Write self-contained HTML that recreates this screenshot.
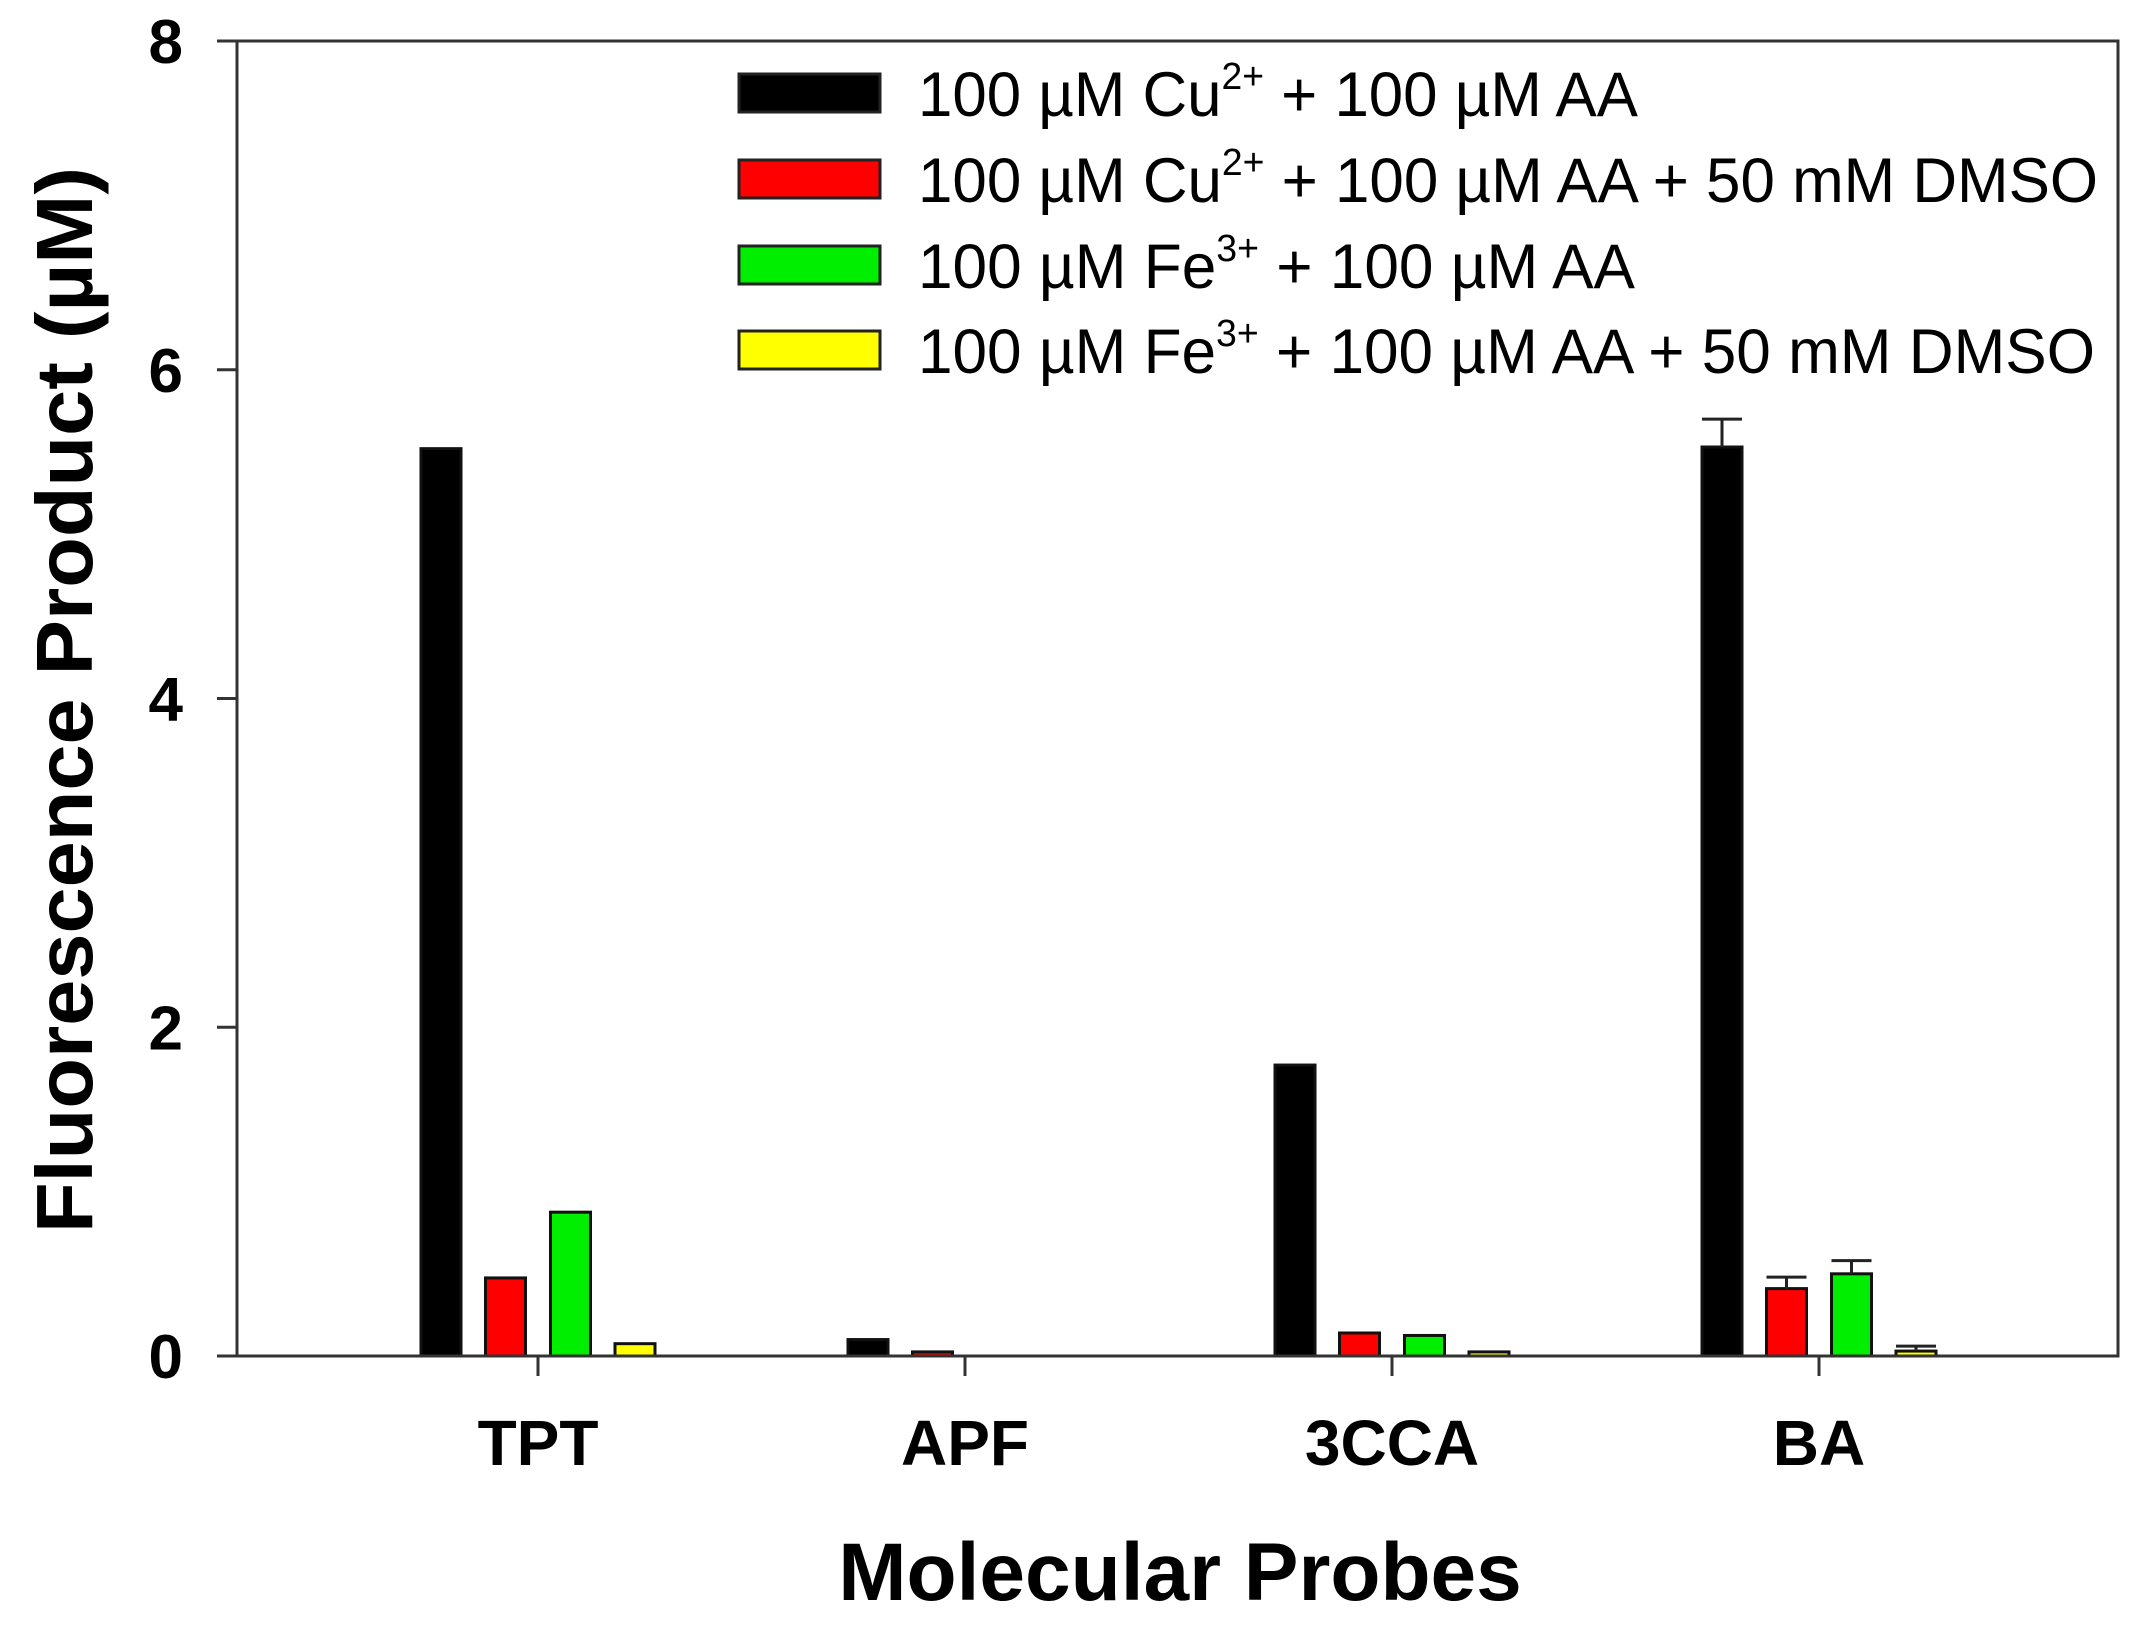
<!DOCTYPE html>
<html><head><meta charset="utf-8"><style>html,body{margin:0;padding:0;background:#fff}svg{display:block}</style></head>
<body>
<svg id="chart" width="2145" height="1635" viewBox="0 0 2145 1635" xmlns="http://www.w3.org/2000/svg" font-family="'Liberation Sans', Arial, sans-serif">
<rect width="2145" height="1635" fill="#fff"/>
<g id="plot"></g>
<g id="legend"></g>
<text x="1180" y="1600" text-anchor="middle" font-weight="bold" font-size="82">Molecular Probes</text>
<text transform="translate(92,700) rotate(-90)" text-anchor="middle" font-weight="bold" font-size="80" textLength="1066" lengthAdjust="spacingAndGlyphs">Fluorescence Product (µM)</text>
</svg>
<script>
const categories = ["TPT","APF","3CCA","BA"];
const cuAA = [5.52, 0.10, 1.77, 5.53];
const cuAADmso = [0.475, 0.025, 0.14, 0.41];
const feAA = [0.875, 0, 0.125, 0.50];
const feAADmso = [0.075, 0, 0.025, 0.03];
const errCuAA = [0, 0, 0, 0.17];
const errCuAADmso = [0, 0, 0, 0.07];
const errFeAA = [0, 0, 0, 0.08];
const errFeAADmso = [0, 0, 0, 0.03];
const yTicks = [0, 2, 4, 6, 8];

const NS = "http://www.w3.org/2000/svg";
const L = 237, R = 2118, T = 41, B = 1356;
const yMax = 8;
function yScale(v){ return B - (v / yMax) * (B - T); }
const catStart = 538, catStep = 427;
function xScale(i){ return catStart + i * catStep; }
const seriesVals = [cuAA, cuAADmso, feAA, feAADmso];
const seriesErr = [errCuAA, errCuAADmso, errFeAA, errFeAADmso];
const seriesFill = ["#000000", "#ff0000", "#00ee00", "#ffff00"];
const seriesNames = ["cu-aa", "cu-aa-dmso", "fe-aa", "fe-aa-dmso"];
const offsets = [-97, -32.5, 32.5, 97];
const barW = 40;

const plot = document.getElementById("plot");
function mk(tag, attrs, parent){ const e = document.createElementNS(NS, tag); for (const k in attrs) e.setAttribute(k, attrs[k]); (parent||plot).appendChild(e); return e; }

categories.forEach((c, i) => {
  seriesVals.forEach((vals, s) => {
    const v = vals[i];
    if (v <= 0) return;
    const cx = xScale(i) + offsets[s];
    const y = yScale(v);
    const r = mk("rect", {x: cx - barW/2, y: y, width: barW, height: B - y, fill: seriesFill[s], stroke: "#111", "stroke-width": 3});
    
    
    const e = seriesErr[s][i];
    if (e > 0) {
      const ye = yScale(v + e);
      const g = mk("path", {d: `M${cx},${y} V${ye} M${cx-20},${ye} H${cx+20}`, stroke: "#222", "stroke-width": 3, fill: "none"});
      
      
    }
  });
});

const frame = mk("rect", {x: L, y: T, width: R - L, height: B - T, fill: "none", stroke: "#333", "stroke-width": 3});



yTicks.forEach(t => {
  const y = yScale(t);
  const tk = mk("line", {x1: L - 20, x2: L, y1: y, y2: y, stroke: "#333", "stroke-width": 3});
  
  
  const lb = mk("text", {x: 183, y: y + 22, "text-anchor": "end", "font-size": 62, "font-weight": "bold"});
  lb.textContent = t;
  
  
});

categories.forEach((c, i) => {
  const x = xScale(i);
  const tk = mk("line", {x1: x, x2: x, y1: B, y2: B + 20, stroke: "#333", "stroke-width": 3});
  
  
  const lb = mk("text", {x: x, y: 1465, "text-anchor": "middle", "font-size": 64, "font-weight": "bold"});
  lb.textContent = c;
  
  
});

const legend = document.getElementById("legend");
const legParts = [
  ["Cu", "2+", " + 100 µM AA", 720],
  ["Cu", "2+", " + 100 µM AA + 50 mM DMSO", 1180],
  ["Fe", "3+", " + 100 µM AA", 717],
  ["Fe", "3+", " + 100 µM AA + 50 mM DMSO", 1177]
];
const rowY = [93, 179, 265, 350];
legParts.forEach((p, s) => {
  const y = rowY[s];
  const sw = mk("rect", {x: 739, y: y - 19, width: 141, height: 38, fill: seriesFill[s], stroke: "#222", "stroke-width": 3}, legend);
  
  
  const tx = mk("text", {x: 918, y: y + 23, "font-size": 63, textLength: p[3], lengthAdjust: "spacingAndGlyphs"}, legend);
  
  
  const a = document.createElementNS(NS, "tspan"); a.textContent = "100 µM " + p[0]; tx.appendChild(a);
  const b = document.createElementNS(NS, "tspan"); b.setAttribute("dy", "-27"); b.setAttribute("font-size", "38"); b.textContent = p[1]; tx.appendChild(b);
  const c = document.createElementNS(NS, "tspan"); c.setAttribute("dy", "27"); c.textContent = p[2]; tx.appendChild(c);
});
</script>
</body></html>
